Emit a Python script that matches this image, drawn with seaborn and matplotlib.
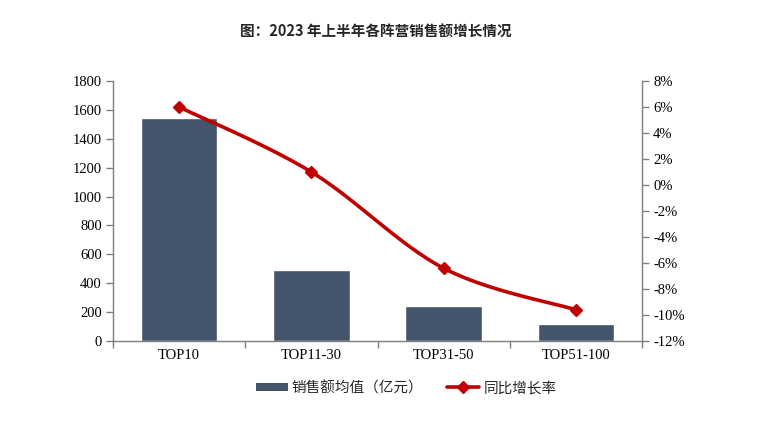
import numpy as np
import pandas as pd
import matplotlib
matplotlib.use("Agg")
import matplotlib.pyplot as plt
import seaborn as sns
from matplotlib.ticker import FuncFormatter, FixedLocator
from matplotlib.lines import Line2D
from matplotlib.patches import Patch

categories = ["TOP10", "TOP11-30", "TOP31-50", "TOP51-100"]
sales_avg = [1545, 490, 240, 115]
growth_pct = [6.0, 1.0, -6.4, -9.6]
title = "图：2023 年上半年各阵营销售额增长情况"
bar_label = "销售额均值（亿元）"
line_label = "同比增长率"

sns.set_theme(style="white")
cjk = ["Noto Sans CJK SC", "DejaVu Sans"]
serif = ["Liberation Serif", "DejaVu Serif"]
plt.rcParams["font.family"] = cjk

BAR = "#44546A"
RED = "#C00000"
GRAY = "#7F7F7F"

fig = plt.figure(figsize=(7.75, 4.21), dpi=100)
ax = fig.add_axes([113/775, 1-341/421, (642-113)/775, (341-81)/421])

df = pd.DataFrame({"cat": categories, "val": sales_avg})
sns.barplot(data=df, x="cat", y="val", color=BAR, width=0.58, ax=ax, saturation=1)
ax.set_xlim(-0.5, 3.5)
ax.set_ylim(0, 1800)
ax.set_yticks(range(0, 1801, 200))
ax.set_xlabel("")
ax.set_ylabel("")

ax2 = ax.twinx()
ax2.set_ylim(-12, 8)
ax2.set_yticks(range(-12, 9, 2))
ax2.yaxis.set_major_formatter(FuncFormatter(lambda v, p: f"{v:.0f}%"))

# smooth curve (Catmull-Rom style Bezier through the data points)
xs = np.arange(len(growth_pct), dtype=float)
ys = np.array(growth_pct, dtype=float)
px, py = [], []
t = np.linspace(0, 1, 40)
for i in range(len(xs) - 1):
    p0 = np.array([xs[max(i-1, 0)], ys[max(i-1, 0)]])
    p1 = np.array([xs[i], ys[i]])
    p2 = np.array([xs[i+1], ys[i+1]])
    p3 = np.array([xs[min(i+2, len(xs)-1)], ys[min(i+2, len(xs)-1)]])
    c1 = p1 + (p2 - p0) / 6
    c2 = p2 - (p3 - p1) / 6
    b = ((1-t)**3)[:, None]*p1 + (3*(1-t)**2*t)[:, None]*c1 + (3*(1-t)*t**2)[:, None]*c2 + (t**3)[:, None]*p2
    px.extend(b[:, 0]); py.extend(b[:, 1])
ax2.plot(px, py, color=RED, lw=2.6, solid_capstyle="round", zorder=3)
ax2.plot(xs, ys, ls="none", marker="D", ms=6.5, color=RED, zorder=4)

for a in (ax, ax2):
    for s in a.spines.values():
        s.set_visible(False)
ax.spines["left"].set_visible(True)
ax.spines["bottom"].set_visible(True)
ax2.spines["right"].set_visible(True)
for s in (ax.spines["left"], ax.spines["bottom"], ax2.spines["right"]):
    s.set_color(GRAY)
    s.set_linewidth(1.0)

ax.tick_params(axis="y", direction="out", length=5, width=1, color=GRAY, labelsize=10.5, pad=3, left=True)
ax2.tick_params(axis="y", direction="out", length=5, width=1, color=GRAY, labelsize=10.5, pad=3, right=True)
ax.xaxis.set_major_locator(FixedLocator([0, 1, 2, 3]))
ax.xaxis.set_minor_locator(FixedLocator([-0.5, 0.5, 1.5, 2.5, 3.5]))
ax.tick_params(axis="x", which="major", length=0, labelsize=10.5, pad=6)
ax.tick_params(axis="x", which="minor", direction="out", length=5, width=1, color=GRAY, bottom=True)
for lab in ax.get_xticklabels() + ax.get_yticklabels() + ax2.get_yticklabels():
    lab.set_fontfamily(serif)
    lab.set_color("black")
ax.grid(False); ax2.grid(False)

fig.text((113+642)/2/775 - 2/775, 1-31/421, title, ha="center", va="center",
         fontsize=10.5, fontweight="bold", family=cjk)

handles = [Patch(facecolor=BAR, edgecolor="none"),
           Line2D([0], [0], color=RED, lw=2.6, marker="D", ms=6.5)]
leg = fig.legend(handles, [bar_label, line_label], loc="center",
                 bbox_to_anchor=(406/775, 1-388/421), ncol=2, frameon=False,
                 prop={"family": cjk, "size": 10.5}, handlelength=2.2,
                 handleheight=0.5, columnspacing=1.6, handletextpad=0.3)

fig.savefig("out.png", dpi=100)
